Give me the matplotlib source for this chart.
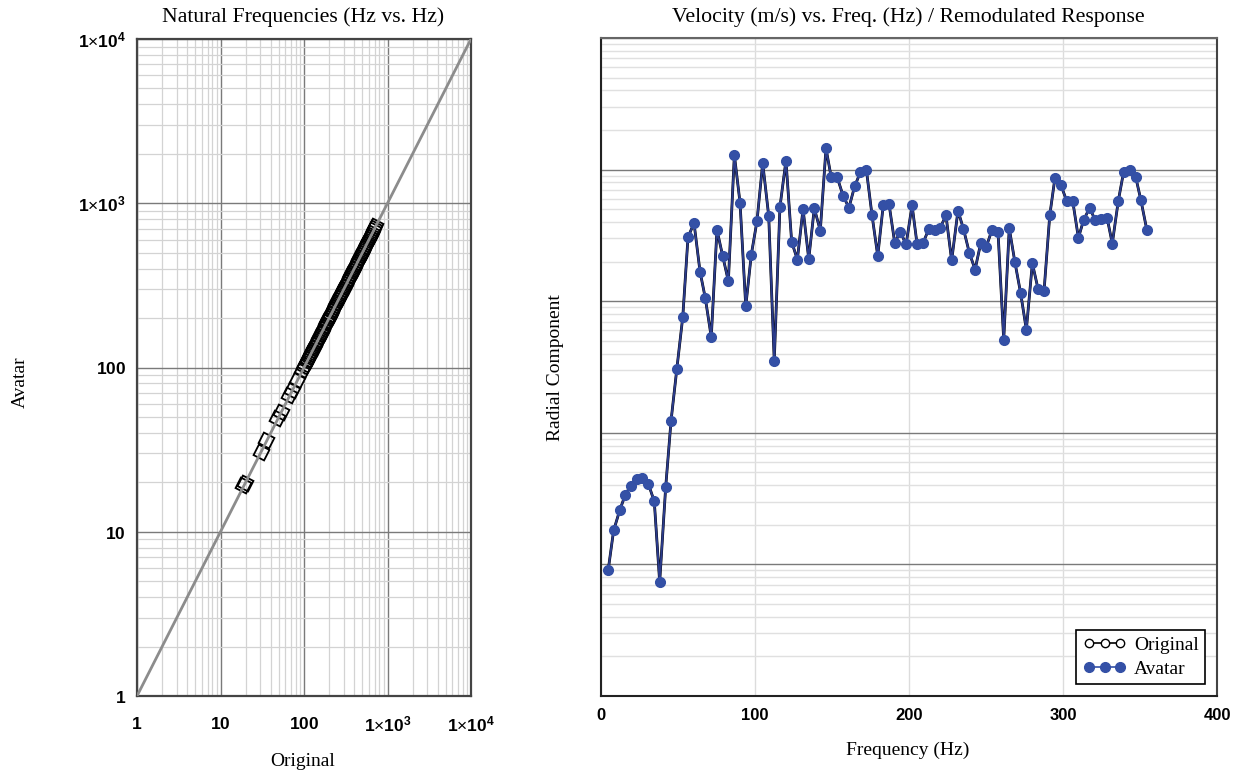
import matplotlib
matplotlib.use("Agg")
import matplotlib.pyplot as plt
from matplotlib.lines import Line2D
import numpy as np

# ---------------- data ----------------
# Left panel: natural frequencies (Hz), Original vs Avatar
orig_nat = [18.6, 19.4, 30.2, 35.4, 48.1, 52.6, 66.5, 71.8, 83.0, 95.0,
            101, 104, 108, 111, 115, 119, 122, 126, 131, 135, 139, 144, 148, 153,
            158, 163, 168, 174, 179, 185, 191, 197, 203, 210, 216, 223, 230, 238,
            245, 253, 261, 270, 278, 287, 296, 306, 316, 326, 336, 347, 358, 370,
            381, 394, 406, 419, 433, 447, 461, 476, 491, 507, 523, 540, 557, 575,
            593, 612, 632, 652, 673, 695, 712]
avatar_nat = [19.2, 19.8, 30.6, 36.0, 49.4, 53.9, 68.0, 73.0, 84.5, 96.5,
              102, 105, 109, 113, 116, 120, 124, 128, 132, 137, 141, 146, 150, 155,
              160, 165, 171, 176, 182, 188, 194, 200, 206, 213, 220, 227, 234, 241,
              249, 257, 265, 274, 283, 292, 301, 311, 321, 331, 342, 353, 364, 376,
              388, 400, 413, 426, 440, 454, 469, 484, 499, 515, 532, 549, 566, 584,
              603, 622, 642, 663, 684, 706, 724]

# Right panel: frequency (Hz) and radial velocity response
freq = [4.7, 8.2, 12.3, 15.8, 19.3, 23.2, 26.8, 30.7, 34.6, 38.1,
        42.0, 45.5, 49.2, 53.1, 56.5, 60.4, 64.3, 67.7, 71.6, 75.3,
        79.0, 82.7, 86.6, 90.3, 94.0, 97.6, 101.3, 105.0, 108.9, 112.5,
        116.2, 120.1, 123.8, 127.5, 131.2, 134.9, 138.5, 142.4, 146.1, 149.5,
        153.4, 157.3, 161.0, 164.7, 168.4, 172.3, 176.0, 179.7, 183.3, 187.0,
        190.7, 194.4, 198.1, 202.0, 205.2, 209.1, 213.0, 216.7, 220.3, 224.0,
        227.7, 231.8, 235.3, 239.2, 242.9, 246.6, 250.2, 253.9, 257.8, 261.5,
        265.1, 268.8, 272.5, 276.2, 280.1, 283.8, 287.7, 291.4, 294.8, 298.7,
        302.4, 306.3, 310.0, 313.4, 317.3, 321.0, 324.7, 328.6, 332.0, 335.9,
        339.4, 343.3, 347.2, 350.6, 354.4]
velocity = [9.12e-5, 1.81e-4, 2.61e-4, 3.38e-4, 3.97e-4, 4.42e-4, 4.53e-4, 4.11e-4, 3.01e-4, 7.33e-5,
            3.86e-4, 1.24e-3, 3.03e-3, 7.59e-3, 3.06e-2, 3.93e-2, 1.68e-2, 1.06e-2, 5.34e-3, 3.48e-2,
            2.21e-2, 1.42e-2, 1.29e-1, 5.58e-2, 9.13e-3, 2.26e-2, 4.07e-2, 1.12e-1, 4.45e-2, 3.51e-3,
            5.20e-2, 1.17e-1, 2.83e-2, 2.07e-2, 5.02e-2, 2.09e-2, 5.08e-2, 3.44e-2, 1.45e-1, 8.73e-2,
            8.73e-2, 6.27e-2, 5.14e-2, 7.46e-2, 9.53e-2, 1.00e-1, 4.49e-2, 2.21e-2, 5.39e-2, 5.51e-2,
            2.79e-2, 3.36e-2, 2.70e-2, 5.35e-2, 2.74e-2, 2.77e-2, 3.56e-2, 3.50e-2, 3.62e-2, 4.49e-2,
            2.04e-2, 4.88e-2, 3.56e-2, 2.33e-2, 1.74e-2, 2.77e-2, 2.60e-2, 3.48e-2, 3.36e-2, 5.09e-3,
            3.58e-2, 1.97e-2, 1.15e-2, 6.07e-3, 1.94e-2, 1.24e-2, 1.20e-2, 4.49e-2, 8.69e-2, 7.60e-2,
            5.78e-2, 5.78e-2, 3.03e-2, 4.14e-2, 5.12e-2, 4.11e-2, 4.24e-2, 4.32e-2, 2.74e-2, 5.78e-2,
            9.66e-2, 9.88e-2, 8.79e-2, 5.84e-2, 3.50e-2]

log_ticks = [1, 10, 100, 1000, 10000]
log_tick_labels = [r"$\mathbf{1}$", r"$\mathbf{10}$", r"$\mathbf{100}$",
                   r"$\mathbf{1}{\times}\mathbf{10^{3}}$", r"$\mathbf{1}{\times}\mathbf{10^{4}}$"]
lin_ticks = [0, 100, 200, 300, 400]
lin_tick_labels = ["0", "100", "200", "300", "400"]

# ---------------- style ----------------
plt.rcParams["mathtext.fontset"] = "custom"
plt.rcParams["mathtext.bf"] = "Liberation Sans:bold"
plt.rcParams["mathtext.rm"] = "Liberation Sans"
SERIF = "Liberation Serif"
SANS = "Liberation Sans"
BLUE = "#3450a6"

W, H = 1246, 776
fig = plt.figure(figsize=(W / 100, H / 100), dpi=100)


def rect(l, t, r, b):
    return [l / W, 1 - b / H, (r - l) / W, (b - t) / H]


# ---------------- left panel ----------------
ax1 = fig.add_axes(rect(137, 39, 471, 696))
ax1.set_xscale("log")
ax1.set_yscale("log")
ax1.set_xlim(1, 1e4)
ax1.set_ylim(1, 1e4)
ax1.grid(True, which="major", color="#7a7a7a", lw=1.0)
ax1.grid(True, which="minor", color="#d3d3d3", lw=0.9)
ax1.set_axisbelow(True)
ax1.plot(orig_nat, avatar_nat, linestyle="none", marker=(4, 0, 18), ms=12,
         mfc="none", mec="black", mew=1.3, zorder=2)
ax1.plot([1, 1e4], [1, 1e4], color="#8c8c8c", lw=2.0, zorder=3)
ax1.set_xticks(log_ticks)
ax1.set_xticklabels(log_tick_labels)
ax1.set_yticks(log_ticks)
ax1.set_yticklabels(log_tick_labels)
ax1.tick_params(which="both", length=0)
ax1.tick_params(axis="x", pad=14, labelsize=12.5)
ax1.tick_params(axis="y", pad=8, labelsize=12.5)
for s in ax1.spines.values():
    s.set_color("#444444")
    s.set_linewidth(1.6)

# ---------------- right panel ----------------
ax2 = fig.add_axes(rect(601, 38, 1217, 696))
ax2.set_xlim(0, 400)
ax2.set_yscale("log")
ax2.set_ylim(1e-5, 1)
ax2.set_xticks(lin_ticks)
ax2.set_xticklabels(lin_tick_labels, fontfamily=SANS, fontweight="bold")
ax2.yaxis.set_major_formatter(matplotlib.ticker.NullFormatter())
ax2.yaxis.set_minor_formatter(matplotlib.ticker.NullFormatter())
ax2.grid(True, axis="y", which="major", color="#7a7a7a", lw=1.0)
ax2.grid(True, axis="y", which="minor", color="#e0e0e0", lw=1.0)
ax2.grid(True, axis="x", which="major", color="#dcdcdc", lw=1.0)
ax2.set_axisbelow(True)
ax2.tick_params(which="both", length=0)
ax2.tick_params(axis="x", pad=9, labelsize=12)
ax2.plot(freq, velocity, color="black", lw=2.0, marker="o", ms=6,
         mfc="white", mec="black", zorder=2)
ax2.plot(freq, velocity, color="#2b3b8a", lw=1.5, marker="o", ms=7,
         mfc=BLUE, mec=BLUE, zorder=3)
for side, c in [("left", "#222222"), ("bottom", "#222222"), ("right", "#444444"), ("top", "#666666")]:
    ax2.spines[side].set_color(c)
    ax2.spines[side].set_linewidth(1.5)

handles = [
    Line2D([], [], color="black", lw=1.2, marker="o", ms=6, mfc="white", mec="black"),
    Line2D([], [], color=BLUE, lw=1.2, marker="o", ms=7, mfc=BLUE, mec=BLUE),
]
leg = ax2.legend(handles, ["Original", "Avatar"], loc="lower right", numpoints=3,
                 prop={"family": SERIF, "size": 14}, frameon=True, fancybox=False,
                 edgecolor="black", framealpha=1, borderpad=0.35, handlelength=2.2,
                 handletextpad=0.4, labelspacing=0.3, borderaxespad=0.6)
leg.get_frame().set_linewidth(1.2)

# ---------------- texts ----------------
def ftext(x, y, s, **kw):
    fig.text(x / W, 1 - y / H, s, ha="center", va="center", family=SERIF, **kw)

ftext(303, 17, "Natural Frequencies (Hz vs. Hz)", fontsize=15.7)
ftext(908, 17, "Velocity (m/s) vs. Freq. (Hz) / Remodulated Response", fontsize=15.7)
ftext(303, 762, "Original", fontsize=14)
ftext(20, 382, "Avatar", fontsize=14, rotation=90)
ftext(908, 750, "Frequency (Hz)", fontsize=14)
ftext(556, 368, "Radial Component", fontsize=14, rotation=90)

fig.savefig("out.png", dpi=100, facecolor="white")
